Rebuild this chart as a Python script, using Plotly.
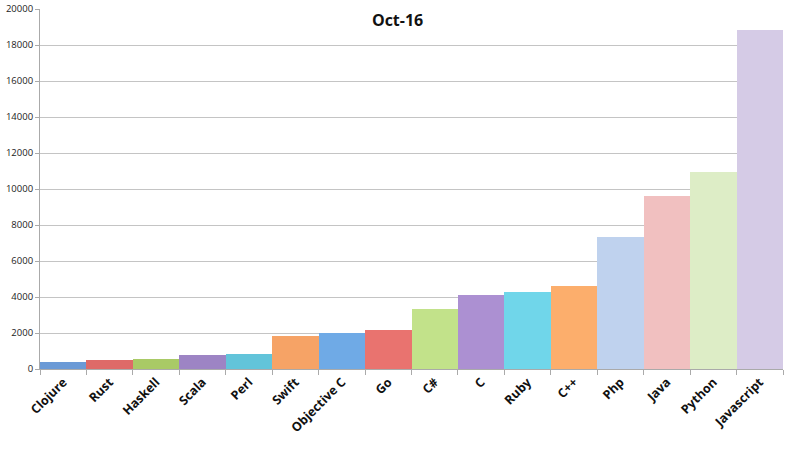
import plotly.graph_objects as go

languages = ["Clojure", "Rust", "Haskell", "Scala", "Perl", "Swift", "Objective C", "Go",
             "C#", "C", "Ruby", "C++", "Php", "Java", "Python", "Javascript"]
counts = [380, 500, 570, 760, 850, 1820, 1990, 2170,
          3330, 4090, 4260, 4610, 7330, 9630, 10940, 18850]
bar_colors = ["#6b9ad6", "#de6a68", "#a9ca66", "#9d84c4", "#62c4da", "#f6a366", "#6faae6", "#e9736f",
              "#c2e28a", "#ac90d2", "#70d6ea", "#fcae6c", "#bfd2ee", "#f1c0c0", "#ddedc6", "#d5cbe6"]

fig = go.Figure(go.Bar(
    x=languages, y=counts,
    marker=dict(color=bar_colors, line=dict(width=0)),
))

fig.update_layout(
    width=800, height=449,
    margin=dict(l=40, r=17, t=9, b=80),
    plot_bgcolor="white", paper_bgcolor="white",
    bargap=0, showlegend=False,
    font=dict(family="Open Sans, DejaVu Sans, sans-serif", color="#222"),
    title=dict(text="<b>Oct-16</b>", x=0.497, xref="container", y=0.955, yref="container",
               xanchor="center", yanchor="middle", font=dict(size=16, color="#111")),
)
fig.update_xaxes(
    automargin=False,
    tickangle=-45, tickson="boundaries", ticks="outside", ticklen=5, tickcolor="#aaa",
    showline=True, linecolor="#aaa", linewidth=1,
    tickfont=dict(size=12.5, family="Open Sans, DejaVu Sans, sans-serif", weight="bold", color="#111"),
)
fig.update_yaxes(
    automargin=False,
    range=[0, 20000], dtick=2000, tickformat="d", ticks="outside", ticklen=4, tickcolor="#aaa",
    showline=True, linecolor="#aaa", linewidth=1,
    gridcolor="#c4c4c4", gridwidth=1, zeroline=False,
    tickfont=dict(size=9.5, color="#222"),
)

# drop the browser's default 8px body margin so the figure fills the window
fig.write_html("out.html", config={"displayModeBar": False},
               post_script="document.body.style.margin='0';")
